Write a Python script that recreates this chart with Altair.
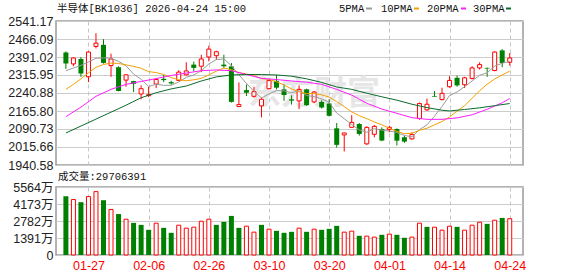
import altair as alt
import pandas as pd

# ---------------- data ----------------
dates = ["01-22", "01-23", "01-26", "01-27", "01-28", "01-29", "01-30",
         "02-02", "02-03", "02-04", "02-05", "02-06", "02-09", "02-10", "02-11", "02-12", "02-13",
         "02-24", "02-25", "02-26", "02-27",
         "03-02", "03-03", "03-04", "03-05", "03-06", "03-09", "03-10", "03-11", "03-12", "03-13",
         "03-16", "03-17", "03-18", "03-19", "03-20", "03-23", "03-24", "03-25", "03-26", "03-27",
         "03-30", "03-31",
         "04-01", "04-02", "04-03", "04-07", "04-08", "04-09", "04-10", "04-13", "04-14", "04-15",
         "04-16", "04-17", "04-20", "04-21", "04-22", "04-23", "04-24"]

open_ = [2410.3, 2362.1, 2382.8, 2308.4, 2435.1, 2442.0, 2355.2, 2348.3, 2294.6, 2290.5,
         2236.7, 2229.9, 2278.1, 2300.1, 2286.3, 2293.2, 2316.6, 2359.3, 2352.4, 2391.0,
         2396.5, 2359.3, 2352.0, 2184.4, 2253.0, 2227.0, 2187.1, 2258.8, 2290.5, 2256.0,
         2214.7, 2207.8, 2256.0, 2203.7, 2203.7, 2196.8, 2093.5, 2066.0, 2097.6, 2111.4,
         2028.7, 2068.7, 2090.7, 2088.0, 2090.7, 2056.3, 2049.4, 2134.8, 2170.6, 2228.5,
         2213.3, 2267.1, 2304.2, 2275.3, 2301.5, 2345.6, 2345.6, 2334.5, 2418.6, 2369.0]
high = [2414.4, 2389.6, 2391.0, 2414.4, 2490.2, 2465.4, 2404.8, 2352.4, 2319.4, 2291.8,
        2272.6, 2267.1, 2301.5, 2316.6, 2291.8, 2335.9, 2369.0, 2371.8, 2400.7, 2437.9,
        2417.2, 2400.7, 2366.0, 2285.0, 2276.7, 2267.0, 2221.6, 2297.3, 2316.6, 2276.7,
        2231.2, 2272.6, 2258.8, 2249.1, 2210.6, 2214.7, 2115.5, 2075.0, 2148.6, 2115.5,
        2101.7, 2107.3, 2097.6, 2104.0, 2093.5, 2063.2, 2077.0, 2200.9, 2217.5, 2249.1,
        2262.9, 2311.1, 2313.9, 2308.4, 2352.4, 2369.0, 2347.0, 2414.4, 2424.1, 2407.6]
low = [2341.4, 2352.4, 2308.4, 2286.3, 2426.8, 2363.5, 2308.4, 2247.8, 2267.1, 2245.0,
       2214.7, 2224.3, 2261.5, 2286.3, 2275.3, 2290.5, 2313.9, 2331.8, 2327.7, 2373.1,
       2380.0, 2345.6, 2200.9, 2183.0, 2228.3, 2221.6, 2139.0, 2256.0, 2256.0, 2207.8,
       2192.6, 2173.4, 2187.1, 2198.2, 2176.1, 2143.1, 2013.0, 1997.1, 2097.6, 2063.2,
       2024.6, 2056.3, 2039.8, 2077.0, 2021.9, 2032.9, 2046.6, 2129.3, 2166.5, 2225.7,
       2210.6, 2263.0, 2267.1, 2261.5, 2297.3, 2338.7, 2308.4, 2331.8, 2348.3, 2355.2]
close = [2363.5, 2386.9, 2322.1, 2411.7, 2448.9, 2366.2, 2382.8, 2249.1, 2316.6, 2279.5,
         2258.8, 2234.0, 2297.3, 2294.6, 2280.8, 2328.0, 2333.0, 2345.6, 2382.8, 2424.0,
         2413.0, 2352.4, 2203.7, 2192.6, 2242.0, 2246.5, 2214.7, 2293.2, 2263.0, 2232.6,
         2209.2, 2256.0, 2189.9, 2245.0, 2180.3, 2145.8, 2024.6, 2074.2, 2118.3, 2070.0,
         2097.6, 2101.7, 2042.5, 2097.6, 2042.0, 2038.0, 2067.3, 2196.8, 2194.0, 2225.7,
         2239.5, 2293.2, 2272.6, 2304.2, 2345.6, 2359.3, 2342.8, 2411.7, 2366.2, 2386.9]

# volume in 万 (10k)
volume = [4808, 4538, 4322, 4781, 5186, 4484, 3727, 3349, 2927, 2629,
          2466, 2060, 2602, 2222, 1816, 2439, 2195, 2276, 2764, 2927,
          2466, 2710, 3198, 2222, 2358, 1870, 2466, 2114, 1978, 1816,
          1897, 2195, 1897, 2114, 2060, 2141, 2385, 1870, 1951, 1572,
          1545, 1463, 1653, 1707, 1653, 1409, 1463, 2602, 2304, 2276,
          2033, 2358, 2304, 2033, 2439, 2683, 2547, 2846, 3035, 2970.6]
# 1 = red (up) volume bar, 0 = green (down)
vol_up = [0, 1, 0, 1, 1, 0, 1, 0, 1, 0,
          0, 0, 1, 0, 0, 1, 1, 1, 1, 1,
          0, 0, 0, 0, 1, 1, 0, 1, 0, 0,
          0, 1, 0, 1, 0, 0, 0, 1, 1, 0,
          1, 1, 0, 1, 0, 0, 1, 1, 0, 1,
          1, 1, 0, 1, 1, 1, 0, 1, 0, 1]

ma5 = [2334, 2345, 2356, 2370, 2386, 2387, 2386, 2373, 2354, 2320,
       2298, 2268, 2277, 2273, 2273, 2287, 2306, 2316, 2334, 2362,
       2380, 2383, 2355, 2317, 2281, 2248, 2220, 2237, 2251, 2250,
       2242, 2251, 2230, 2226, 2216, 2203, 2157, 2134, 2109, 2087,
       2077, 2092, 2086, 2082, 2076, 2064, 2058, 2088, 2108, 2144,
       2185, 2230, 2245, 2267, 2291, 2315, 2325, 2353, 2365, 2373]
ma10 = [2256, 2277, 2300, 2325, 2348, 2360, 2366, 2364, 2358, 2352,
        2344, 2330, 2326, 2318, 2305, 2296, 2292, 2296, 2302, 2316,
        2332, 2345, 2338, 2326, 2320, 2313, 2301, 2297, 2288, 2274,
        2258, 2246, 2238, 2239, 2233, 2224, 2205, 2184, 2162, 2146,
        2134, 2120, 2108, 2094, 2081, 2071, 2073, 2085, 2094, 2108,
        2122, 2141, 2165, 2188, 2219, 2250, 2278, 2299, 2316, 2332]
ma20_idx = [0, 2, 4, 6, 8, 10, 12, 14, 16, 18, 20, 22, 24, 26, 28, 30,
            32, 34, 36, 38, 40, 42, 44, 46, 48, 50, 52, 54, 56, 58, 59]
ma20 = [2142, 2182, 2227, 2256, 2277, 2289, 2301, 2314, 2324, 2334, 2337, 2334, 2318, 2302, 2297, 2291,
        2286, 2277, 2256, 2232, 2198, 2174, 2156, 2138, 2131, 2131, 2137, 2150, 2173, 2200, 2218]
ma30_idx = [0, 2, 4, 6, 8, 10, 12, 14, 16, 18, 20, 22, 24, 26, 28, 30,
            32, 34, 36, 38, 40, 42, 44, 46, 48, 50, 51, 53, 55, 57, 59]
ma30 = [2074, 2103, 2132, 2161, 2190, 2221, 2242, 2258, 2270, 2291, 2308, 2316, 2318, 2318, 2316, 2311,
        2300, 2285, 2266, 2256, 2240, 2225, 2211, 2194, 2180, 2169, 2166, 2172, 2179, 2188, 2197]

price_ticks = [1940.58, 2015.66, 2090.73, 2165.80, 2240.88, 2315.95, 2391.02, 2466.09, 2541.17]
vol_ticks = [0, 1391, 2782, 4173, 5564]
label_dates = ["01-27", "02-06", "02-26", "03-10", "03-20", "04-01", "04-14", "04-24"]
title_text = "半导体[BK1036] 2026-04-24 15:00"
vol_title = "成交量:29706391"
watermark = "东方财富"
ma_names = ["5PMA", "10PMA", "20PMA", "30PMA"]
ma_colors = ["#9b9b9b", "#f2a100", "#ff1cff", "#0b6b2c"]

# ---------------- build ----------------
RED = "#ff0000"
GREEN = "#008000"
GRID = "#cccccc"
NUM_FONT = "Liberation Sans, Noto Sans CJK SC"
SIM_FONT = "Liberation Mono, Noto Sans CJK SC"

n = len(dates)
idx = list(range(n))
df = pd.DataFrame({
    "idx": idx, "date": dates, "open": open_, "high": high, "low": low, "close": close,
    "vol": volume,
    "vol_dir": ["up" if v else "down" for v in vol_up],
})
df["dir"] = ["up" if c >= o else "down" for o, c in zip(open_, close)]

ma_series = [(ma_names[0], idx, ma5), (ma_names[1], idx, ma10),
             (ma_names[2], ma20_idx, ma20), (ma_names[3], ma30_idx, ma30)]

label_idx = [dates.index(d) for d in label_dates]
date_array = "[" + ",".join("'%s'" % d for d in dates) + "]"

W = 467
xs = alt.Scale(domain=[-0.65, 60.1], nice=False, zero=False)
ys = alt.Scale(domain=[1940.58, 2541.17], nice=False, zero=False)
vs = alt.Scale(domain=[0, 5564], nice=False, zero=True)

x_main_axis = alt.Axis(values=label_idx, grid=True, gridDash=[4, 3], gridColor="#c6c6c6",
                       labels=False, ticks=False, domain=False, title=None)
y_main_axis = alt.Axis(values=price_ticks, format=".2f", grid=True, gridColor=GRID,
                       ticks=False, domain=False, labelPadding=3, labelFont=NUM_FONT,
                       labelFontSize=12.5, labelColor="#222222", labelFlush=False,
                       labelOverlap=False, minExtent=50, maxExtent=50, title=None)
x_vol_axis = alt.Axis(values=label_idx, grid=True, gridDash=[4, 3], gridColor="#c6c6c6",
                      labelExpr=date_array + "[datum.value]", labelColor=RED,
                      labelFont=NUM_FONT, labelFontSize=12.5, labelPadding=4,
                      labelFlush=False, labelOverlap=False,
                      ticks=False, domain=False, title=None)
y_vol_axis = alt.Axis(values=vol_ticks, labelExpr="datum.value == 0 ? '0' : datum.value + '万'",
                      grid=True, gridColor=GRID, ticks=False, domain=False, labelPadding=3,
                      labelFont=NUM_FONT, labelFontSize=12.5, labelColor="#222222",
                      labelFlush=False, labelOverlap=False, minExtent=50, maxExtent=50, title=None)

X = alt.X("idx:Q", scale=xs, axis=x_main_axis)
base = alt.Chart(df)
up_f = "datum.dir == 'up'"
down_f = "datum.dir == 'down'"

wm = alt.Chart(pd.DataFrame({"t": [watermark]})).mark_text(
    font="Noto Sans CJK SC", fontSize=33, fontWeight="bold", color="#e6e6e6",
    align="center", baseline="middle"
).encode(text="t:N", x=alt.value(258), y=alt.value(73))

wick_down = base.transform_filter(down_f).mark_rule(strokeWidth=1, color=GREEN).encode(
    x=X, y=alt.Y("low:Q", scale=ys, axis=y_main_axis), y2="high:Q")
wick_up = base.transform_filter(up_f).mark_rule(strokeWidth=1, color=RED).encode(
    x=X, y=alt.Y("low:Q", scale=ys, axis=y_main_axis), y2="high:Q")
body_down = base.transform_filter(down_f).mark_bar(size=5, color=GREEN).encode(
    x=X, y=alt.Y("open:Q", scale=ys, axis=y_main_axis), y2="close:Q")
body_up = base.transform_filter(up_f).mark_bar(
    size=4, fill="white", stroke=RED, strokeWidth=1).encode(
    x=X, y=alt.Y("open:Q", scale=ys, axis=y_main_axis), y2="close:Q")

line_layers = []
for (name, ids, vals), col in zip(ma_series, ma_colors):
    d = pd.DataFrame({"idx": ids, "value": vals})
    line_layers.append(alt.Chart(d).mark_line(strokeWidth=1, color=col).encode(
        x=X, y=alt.Y("value:Q", scale=ys, axis=y_main_axis)))

title = alt.Chart(pd.DataFrame({"t": [title_text]})).mark_text(
    font=SIM_FONT, fontSize=10.5, color="#111111", align="left", baseline="middle"
).encode(text="t:N", x=alt.value(1), y=alt.value(-12.5))

legend_layers = []
legend_x = [(283, 310, 316), (325, 358, 363), (371, 405, 410), (417, 450, 455)]
for name, col, (tx, l1, l2) in zip(ma_names, ma_colors, legend_x):
    d = pd.DataFrame({"t": [name]})
    legend_layers.append(alt.Chart(d).mark_text(
        font=SIM_FONT, fontSize=10.5, color="#111111", align="left", baseline="middle"
    ).encode(text="t:N", x=alt.value(tx), y=alt.value(-12.5)))
    legend_layers.append(alt.Chart(d).mark_rule(color=col, strokeWidth=2).encode(
        x=alt.value(l1), x2=alt.value(l2), y=alt.value(-12.5)))

main = alt.layer(wm, wick_down, wick_up, body_down, body_up, *line_layers, title,
                 *legend_layers).properties(width=W, height=144)

XV = alt.X("idx:Q", scale=xs, axis=x_vol_axis)
vol_down = base.transform_filter("datum.vol_dir == 'down'").mark_bar(size=5, color=GREEN).encode(
    x=XV, y=alt.Y("vol:Q", scale=vs, axis=y_vol_axis))
vol_upl = base.transform_filter("datum.vol_dir == 'up'").mark_bar(
    size=4, fill="white", stroke=RED, strokeWidth=1).encode(
    x=XV, y=alt.Y("vol:Q", scale=vs, axis=y_vol_axis))
vtitle = alt.Chart(pd.DataFrame({"t": [vol_title]})).mark_text(
    font=SIM_FONT, fontSize=10.5, color="#111111", align="left", baseline="middle"
).encode(text="t:N", x=alt.value(2), y=alt.value(-10))

vol = alt.layer(vol_down, vol_upl, vtitle).properties(width=W, height=68)

chart = alt.vconcat(main, vol, spacing=22, bounds="flush").properties(
    padding={"left": 5, "top": 2, "right": 0, "bottom": 0}, background="white"
).configure_view(stroke="#9a9a9a", strokeWidth=1.5)

chart.save("out.html", embed_options={"renderer": "svg", "actions": False})
